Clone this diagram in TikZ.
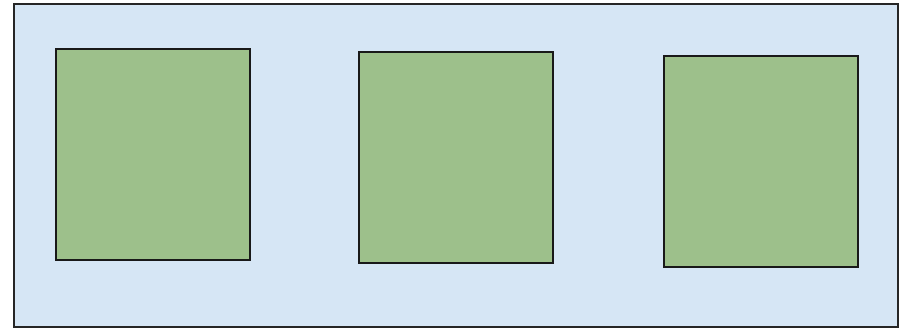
\documentclass[tikz,border=0pt]{standalone}
\usetikzlibrary{positioning}

\definecolor{panelblue}{RGB}{214,230,245}
\definecolor{boxgreen}{RGB}{157,192,139}

\begin{document}
\begin{tikzpicture}[
  x=1pt, y=-1pt,
  panel/.style={draw=black!85, line width=1.8pt, fill=panelblue, minimum width=884pt, minimum height=323pt, inner sep=0pt},
  greenbox/.style={draw=black!90, line width=2pt, fill=boxgreen, minimum width=194pt, minimum height=211pt, inner sep=0pt}
]
  \useasboundingbox[fill=white] (0,0) rectangle (909,333);

  \node[panel] (frame) at (456,165.5) {};

  \node[greenbox] (b1) at (153,154) {};
  \node[greenbox] (b2) at (456,157.5) {};
  \node[greenbox] (b3) at (760.5,161) {};
\end{tikzpicture}
\end{document}
